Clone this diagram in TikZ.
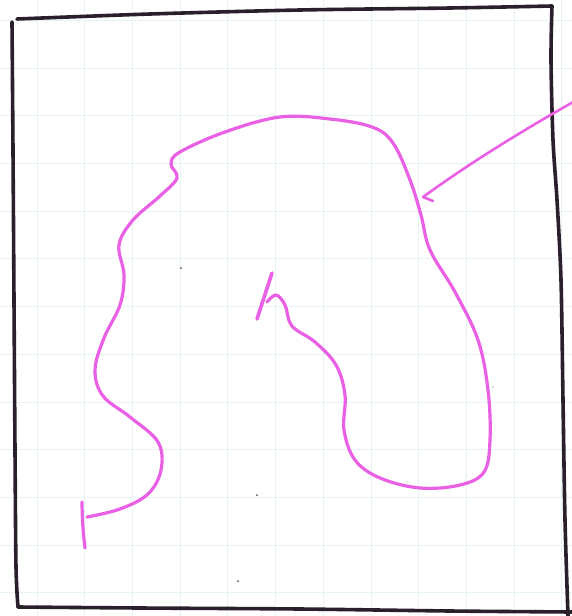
\documentclass[tikz,border=0pt]{standalone}
\usepackage{tikz}
\definecolor{gridc}{RGB}{230,243,245}
\definecolor{pen}{RGB}{234,96,228}
\definecolor{ink}{RGB}{42,32,44}
\tikzset{
  gridline/.style={draw=gridc, line width=0.7pt},
  pinkpen/.style={draw=pen, line width=3.2pt, line cap=round, line join=round},
  framepen/.style={draw=ink, line width=3.6pt, line cap=round, line join=round},
  speck/.style={fill=ink!80, draw=none}
}
\begin{document}
\begin{tikzpicture}[x=1pt,y=-1pt]
\useasboundingbox[fill=white] (0,0) rectangle (572,616);
% faint grid
\foreach \k in {0,...,11} {
  \draw[gridline] ({37+47.7*\k},0) -- ({37+47.7*\k},616);
}
\foreach \k in {0,...,12} {
  \draw[gridline] (0,{20.3+47.7*\k}) -- (572,{20.3+47.7*\k});
}
% frame
\draw[framepen] plot[smooth] coordinates {(17,19) (150,14) (300,10) (450,8) (552,6)};
\draw[framepen] plot[smooth] coordinates {(552,6) (551,60) (553,140) (557,200) (561,280) (563,400) (565,520) (568,616)};
\draw[framepen] plot[smooth] coordinates {(12,22) (13,150) (14,300) (15,450) (16,567) (18,607)};
\draw[framepen] plot[smooth] coordinates {(18,607) (140,608) (300,609) (450,611) (572,612)};
% main pink curve
\draw[pinkpen] plot[smooth, tension=0.6] coordinates {
 (87,517) (120,509) (148,494) (161,470) (158,442) (130,417) (103,396) (95,370)
 (104,338) (120,305) (124,275) (119,245) (133,220) (160,196) (177,178) (171,164)
 (180,152) (225,132) (280,117) (330,119) (372,127) (393,143) (410,180) (421,215)
 (430,250) (455,292) (478,340) (488,390) (490,440) (484,472) (460,485) (420,488)
 (380,478) (355,460) (344,430) (345,395) (336,365) (315,342) (292,326) (285,305)
 (276,295) (267,302)};
% tick at the start
\coordinate (tickA) at (82,502);
\coordinate (tickB) at (85,548);
\draw[pinkpen] (tickA) to[bend right=3] (tickB);
% h stroke
\coordinate (hA) at (272,273);
\coordinate (hB) at (257,319);
\draw[pinkpen, line width=3.6pt] (hA) -- (hB);
% arrow from right
\coordinate (arrS) at (575,101);
\coordinate (arrT) at (423,197);
\coordinate (barb) at (433,201);
\draw[pinkpen, line width=2.6pt] (arrS) .. controls (520,132) and (470,163) .. (arrT) -- (barb);
% specks
\fill[speck] (181,268) circle (1pt);
\fill[speck] (257,495) circle (1pt);
\fill[speck] (238,581) circle (1pt);
\fill[speck] (493,387) circle (0.7pt);
\end{tikzpicture}
\end{document}
